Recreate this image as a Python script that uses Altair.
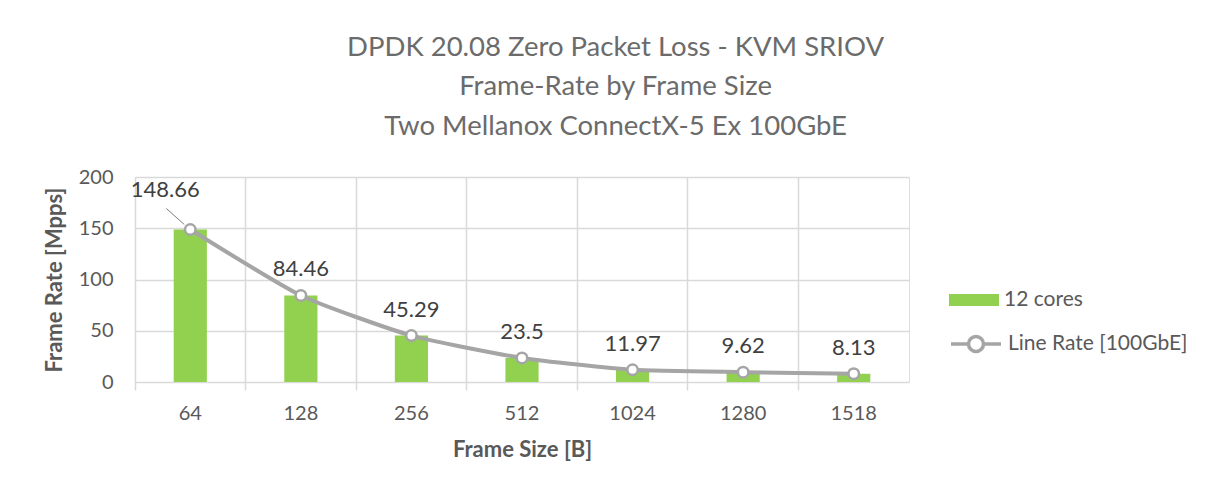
import altair as alt
import pandas as pd

sizes = ["64", "128", "256", "512", "1024", "1280", "1518"]
cores12 = [148.66, 84.46, 45.29, 23.5, 11.97, 9.62, 8.13]
line_rate = [148.81, 84.46, 45.29, 23.5, 11.97, 9.62, 8.13]
labels = ["148.66", "84.46", "45.29", "23.5", "11.97", "9.62", "8.13"]

df = pd.DataFrame({
    "size": sizes,
    "cores": cores12,
    "line": line_rate,
    "label": labels,
    "s1": ["12 cores"] * len(sizes),
    "s2": ["Line Rate [100GbE]"] * len(sizes),
})

FONT = "Lato"
TXT = "#595959"
GRID = "#d9d9d9"
GREEN = "#92d050"
GRAY = "#a5a5a5"

xscale = alt.Scale(domain=sizes, paddingInner=0, paddingOuter=0)
yscale = alt.Scale(domain=[0, 200])

base = alt.Chart(df)

bars = base.mark_bar(width={"band": 0.3}, color=GREEN).encode(
    x=alt.X("size:N", scale=xscale, sort=sizes,
            axis=alt.Axis(orient="bottom", bandPosition=0, grid=True, gridColor=GRID,
                          gridWidth=1.5, ticks=True, tickColor=GRID, tickSize=8,
                          tickWidth=1.5, labels=False, domain=False, title=None)),
    y=alt.Y("cores:Q", scale=yscale,
            axis=alt.Axis(values=[0, 50, 100, 150, 200], grid=True, gridColor=GRID,
                          gridWidth=1.5, ticks=False, domain=False,
                          labelFontSize=20, labelColor=TXT, labelFont=FONT,
                          labelPadding=22, title="Frame Rate [Mpps]",
                          titleFontSize=22, titleFont=FONT, titleColor=TXT,
                          titleFontWeight="bold", titlePadding=12)),
    color=alt.Color("s1:N", scale=alt.Scale(domain=["12 cores"], range=[GREEN]),
                    legend=alt.Legend(title=None, orient="none", legendX=814, legendY=98,
                                      symbolType="M-1,-0.24H1V0.24H-1Z", symbolSize=2500,
                                      symbolStrokeWidth=0, labelFontSize=21,
                                      labelFont=FONT, labelColor=TXT, labelOffset=5,
                                      labelLimit=400, padding=0)),
)

line = base.mark_line(interpolate="cardinal", tension=0.45, strokeWidth=4).encode(
    x=alt.X("size:N", scale=xscale, sort=sizes,
            axis=alt.Axis(orient="bottom", grid=False, ticks=False, domain=False,
                          labelAngle=0, labelFontSize=20, labelFont=FONT,
                          labelColor=TXT, labelPadding=21, title="Frame Size [B]",
                          titleFontSize=22, titleFont=FONT, titleColor=TXT,
                          titleFontWeight="bold", titlePadding=16)),
    y=alt.Y("line:Q", scale=yscale),
    stroke=alt.Stroke("s2:N", scale=alt.Scale(domain=["Line Rate [100GbE]"], range=[GRAY]),
                      legend=alt.Legend(title=None, orient="none", legendX=814, legendY=140,
                                        symbolType="M-1,0H-0.3M0.3,0H1M-0.3,0A0.3,0.3 0 1,0 0.3,0A0.3,0.3 0 1,0 -0.3,0",
                                        symbolSize=2500, symbolStrokeWidth=3.5,
                                        symbolFillColor="white", labelFontSize=21,
                                        labelFont=FONT, labelColor=TXT, labelOffset=5,
                                        labelLimit=400, padding=0)),
)

points = base.mark_point(filled=True, fill="white", stroke=GRAY, strokeWidth=2.5,
                         size=110, opacity=1).encode(
    x=alt.X("size:N", scale=xscale, sort=sizes, axis=None),
    y=alt.Y("line:Q", scale=yscale),
)

first = [sizes[0]]

leader = base.mark_rule(color="#7f7f7f", strokeWidth=1, xOffset=-24, yOffset=-21,
                        x2Offset=-6, y2Offset=-5).encode(
    x=alt.X("size:N", scale=xscale, sort=sizes, axis=None),
    x2="size:N",
    y=alt.Y("line:Q", scale=yscale),
    y2="line:Q",
).transform_filter(alt.FieldOneOfPredicate(field="size", oneOf=first))

text_rest = base.mark_text(fontSize=22, font=FONT, color="#404040", dy=-26,
                           baseline="middle").encode(
    x=alt.X("size:N", scale=xscale, sort=sizes, axis=None),
    y=alt.Y("line:Q", scale=yscale),
    text="label:N",
).transform_filter(alt.FieldOneOfPredicate(field="size", oneOf=sizes[1:]))

text_first = base.mark_text(fontSize=22, font=FONT, color="#404040", dy=-39, dx=-25,
                            baseline="middle").encode(
    x=alt.X("size:N", scale=xscale, sort=sizes, axis=None),
    y=alt.Y("line:Q", scale=yscale),
    text="label:N",
).transform_filter(alt.FieldOneOfPredicate(field="size", oneOf=first))

chart = alt.layer(bars, line, leader, points, text_rest, text_first).resolve_axis(
    x="independent"
).properties(
    width=774,
    height=205,
    padding={"left": 35, "top": 25, "right": 5, "bottom": 5},
    title=alt.TitleParams(
        ["DPDK 20.08 Zero Packet Loss - KVM SRIOV", "Frame-Rate by Frame Size",
         "Two Mellanox ConnectX-5 Ex 100GbE"],
        fontSize=27.5, font=FONT, color="#6b6b6b", fontWeight="normal",
        lineHeight=39.5, anchor="middle", frame="bounds", offset=27),
).configure_view(
    stroke=GRID, strokeWidth=1.5, fill="#f1f1f1"
).configure(background="white")

chart.save("out.html", embed_options={"renderer": "svg", "actions": False})
